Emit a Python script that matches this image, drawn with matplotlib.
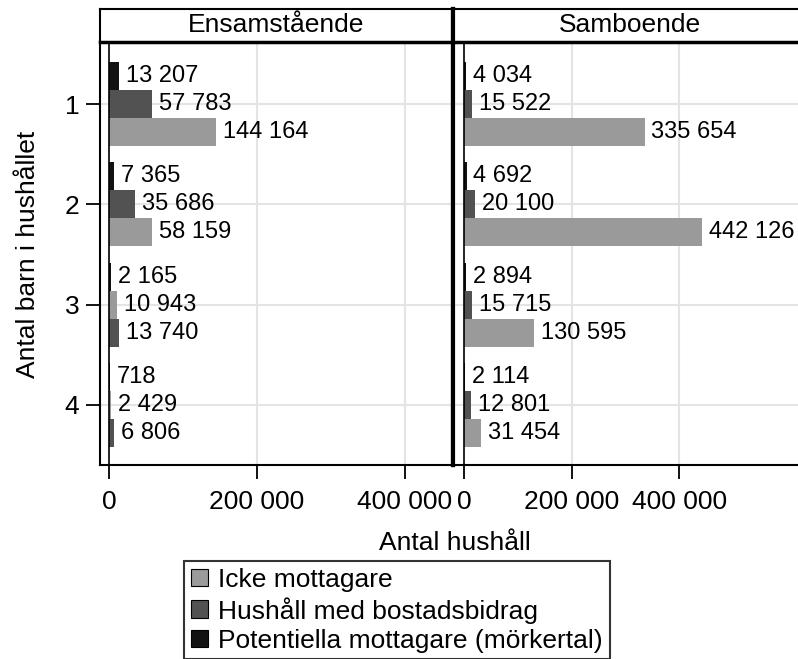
import matplotlib.pyplot as plt
from matplotlib.patches import Patch

plt.rcParams['font.family'] = ['Liberation Sans', 'DejaVu Sans']
plt.rcParams['font.size'] = 19

# data
barn = [1, 2, 3, 4]
panels = ["Ensamstående", "Samboende"]
ens_icke = [144164, 58159, 10943, 2429]
ens_bidrag = [57783, 35686, 13740, 6806]
ens_pot = [13207, 7365, 2165, 718]
sam_icke = [335654, 442126, 130595, 31454]
sam_bidrag = [15522, 20100, 15715, 12801]
sam_pot = [4034, 4692, 2894, 2114]
# in the original the two lower rows of Ensamstående have icke/bidrag swapped
ens_swap = [False, False, True, True]
sam_swap = [False, False, False, False]
series_names = ["Icke mottagare", "Hushåll med bostadsbidrag",
                "Potentiella mottagare (mörkertal)"]
colors = ["#9a9a9a", "#525252", "#121212"]
xticks = [0, 200000, 400000]

W, H = 798, 659
fig = plt.figure(figsize=(W / 100, H / 100), dpi=100)


def box(x0, y0, x1, y1):
    return [x0 / W, 1 - y1 / H, (x1 - x0) / W, (y1 - y0) / H]


def fmt(v):
    return f"{v:,}".replace(",", " ")


bh = 0.28


def draw(ax, icke, bidrag, pot, swap, xlim):
    for i, c in enumerate(barn):
        if swap[i]:
            pos = [(icke[i], 0, colors[0]), (bidrag[i], bh, colors[1])]
        else:
            pos = [(icke[i], bh, colors[0]), (bidrag[i], 0, colors[1])]
        pos.append((pot[i], -bh, colors[2]))
        for v, off, col in pos:
            ax.barh(c + off, v, height=bh, color=col, linewidth=0, zorder=3)
            ax.annotate(fmt(v), (v, c + off), xytext=(5, 0),
                        textcoords="offset points", va="center", ha="left",
                        fontsize=17, zorder=4)
    ax.set_xlim(*xlim)
    ax.set_ylim(4.6, 0.38)
    for c in barn:
        ax.axhline(c, color="#e4e4e4", lw=1.5, zorder=1)
    for t in xticks[1:]:
        ax.axvline(t, color="#e4e4e4", lw=1.5, zorder=1)
    ax.axvline(0, color="black", lw=1.2, zorder=5)
    ax.set_xticks(xticks)
    ax.set_xticklabels([fmt(t) for t in xticks])
    ax.tick_params(axis="x", length=10, width=1.3, pad=8, labelsize=19)
    for s in ax.spines.values():
        s.set_linewidth(1.5)


ax1 = fig.add_axes(box(100, 42, 453, 465))
draw(ax1, ens_icke, ens_bidrag, ens_pot, ens_swap, (-12200, 465000))
ax1.set_yticks(barn)
ax1.set_yticklabels([str(b) for b in barn])
ax1.tick_params(axis="y", length=10, width=1.3, pad=5, labelsize=19)
ax1.spines["right"].set_linewidth(3)

ax2 = fig.add_axes(box(453, 42, 806, 465))
draw(ax2, sam_icke, sam_bidrag, sam_pot, sam_swap, (-20500, 636000))
ax2.set_yticks([])
ax2.spines["left"].set_linewidth(3)

# header strips
for name, (x0, x1) in zip(panels, [(100, 453), (453, 806)]):
    hx = fig.add_axes(box(x0, 9, x1, 42))
    hx.set_xticks([])
    hx.set_yticks([])
    for s in hx.spines.values():
        s.set_linewidth(1.5)
    hx.spines["bottom"].set_linewidth(2.5)
    hx.text(0.5, 0.5, name, ha="center", va="center", fontsize=19,
            transform=hx.transAxes)
    if x0 == 100:
        hx.spines["right"].set_linewidth(3)
    else:
        hx.spines["left"].set_linewidth(3)

fig.text(28 / W, 1 - 254 / H, "Antal barn i hushållet", rotation=90,
         ha="center", va="center", fontsize=19)
fig.text(455 / W, 1 - 543 / H, "Antal hushåll", ha="center", va="center",
         fontsize=19)

handles = [Patch(facecolor=c, edgecolor="black", linewidth=0.8) for c in colors]
leg = fig.legend(handles, series_names, loc="upper left",
                 bbox_to_anchor=(184 / W, 1 - 561 / H), frameon=True,
                 fancybox=False, edgecolor="black", fontsize=19,
                 handlelength=0.65, handleheight=0.65, handletextpad=0.4,
                 labelspacing=0.2, borderpad=0.25, borderaxespad=0)
leg.get_frame().set_linewidth(1.5)

fig.savefig("out.png", dpi=100)
